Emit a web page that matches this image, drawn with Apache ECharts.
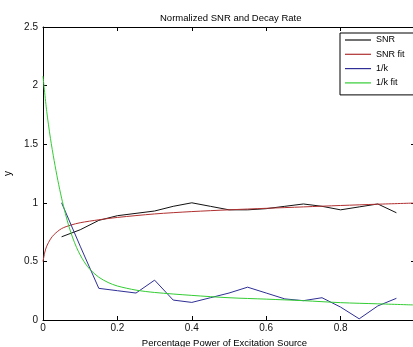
<!DOCTYPE html>
<html>
<head>
<meta charset="utf-8">
<script src="https://cdn.jsdelivr.net/npm/echarts@6/dist/echarts.min.js"></script>
<style>
html,body{margin:0;padding:0;background:#fff;}
#chart{width:413px;height:347px;}
</style>
</head>
<body>
<div id="chart"></div>
<script>
// ---- data ----
var xPts = [0.05,0.10,0.15,0.20,0.25,0.30,0.35,0.40,0.45,0.50,0.55,0.60,0.65,0.70,0.75,0.80,0.85,0.90,0.95];
var snr  = [0.71,0.77,0.85,0.89,0.91,0.93,0.97,1.00,0.97,0.94,0.94,0.95,0.97,0.99,0.97,0.94,0.965,0.99,0.915];
var invK = [1.00,0.63,0.27,0.25,0.23,0.34,0.17,0.15,0.19,0.23,0.28,0.23,0.18,0.165,0.19,0.11,0.01,0.12,0.185];

var snrFitX = [0.0,0.005,0.01,0.02,0.03,0.05,0.075,0.10,0.15,0.20,0.30,0.40,0.50,0.60,0.70,0.80,0.90,1.00];
var snrFitY = [0.50,0.58,0.63,0.69,0.73,0.78,0.81,0.83,0.855,0.875,0.905,0.925,0.94,0.953,0.965,0.977,0.988,0.998];

var invKFitX = [0.0,0.01,0.02,0.03,0.04,0.05,0.06,0.07,0.08,0.09,0.10,0.11,0.12,0.13,0.15,0.175,0.20,0.25,0.30,0.40,0.50,0.60,0.70,0.80,0.90,1.00];
var invKFitY = [2.08,1.78,1.55,1.36,1.19,1.04,0.91,0.795,0.70,0.62,0.555,0.50,0.455,0.42,0.365,0.32,0.29,0.255,0.235,0.21,0.19,0.178,0.165,0.148,0.138,0.128];

var seriesNames = ['SNR','SNR fit','1/k','1/k fit'];
var titleText = 'Normalized SNR and Decay Rate';
var xName = 'Percentage Power of Excitation Source';
var yName = 'y';

function pairs(xs, ys){ return xs.map(function(x,i){ return [x, ys[i]]; }); }

var font = 'Liberation Sans, Arial, Helvetica, sans-serif';
var chart = echarts.init(document.getElementById('chart'), null, {renderer:'canvas'});

var axisCommon = {
  axisLine:{show:true, onZero:false, lineStyle:{color:'#000', width:1}},
  axisTick:{show:true, inside:true, length:4, lineStyle:{color:'#000'}},
  splitLine:{show:false}
};
var lineIcon = 'path://M0,0 L26,0 L26,1.2 L0,1.2 Z';

chart.setOption({
  animation:false,
  backgroundColor:'#fff',
  title:{
    text:titleText, left:155, top:8,
    textStyle:{fontFamily:font, fontSize:9.5, fontWeight:'normal', color:'#000'}
  },
  legend:{
    orient:'vertical', left:340, top:33,
    data:seriesNames.map(function(n){ return {name:n, icon:lineIcon}; }),
    itemWidth:26, itemHeight:14, itemGap:0.3,
    padding:[0,60,5,5],
    borderColor:'#000', borderWidth:1, backgroundColor:'#fff',
    textStyle:{fontFamily:font, fontSize:9, color:'#000', lineHeight:14}
  },
  grid:{left:43, top:27, width:372, height:293, containLabel:false, outerBoundsMode:'none', show:false},
  xAxis:[
    Object.assign({}, axisCommon, {
      type:'value', min:0, max:1, interval:0.2, position:'bottom',
      axisLabel:{margin:3, fontFamily:font, fontSize:10, color:'#111'},
      name:xName, nameLocation:'middle', nameGap:17,
      nameTextStyle:{fontFamily:font, fontSize:9.5, color:'#000', padding:[0,9,0,0]}
    }),
    Object.assign({}, axisCommon, {
      type:'value', min:0, max:1, interval:0.2, position:'top',
      axisLabel:{show:false}
    })
  ],
  yAxis:[
    Object.assign({}, axisCommon, {
      type:'value', min:0, max:2.5, interval:0.5, position:'left',
      axisLabel:{margin:5, fontFamily:font, fontSize:10, color:'#111'},
      name:yName, nameLocation:'middle', nameGap:27,
      nameTextStyle:{fontFamily:font, fontSize:10, color:'#000'}
    }),
    Object.assign({}, axisCommon, {
      type:'value', min:0, max:2.5, interval:0.5, position:'right',
      axisLabel:{show:false}
    })
  ],
  series:[
    {name:seriesNames[0], type:'line', data:pairs(xPts, snr), symbol:'none',
     lineStyle:{color:'#111', width:1}, itemStyle:{color:'#111'}},
    {name:seriesNames[1], type:'line', data:pairs(snrFitX, snrFitY), symbol:'none', smooth:0.3,
     lineStyle:{color:'#b03030', width:1}, itemStyle:{color:'#b03030'}},
    {name:seriesNames[2], type:'line', data:pairs(xPts, invK), symbol:'none',
     lineStyle:{color:'#2e2e96', width:1}, itemStyle:{color:'#2e2e96'}},
    {name:seriesNames[3], type:'line', data:pairs(invKFitX, invKFitY), symbol:'none', smooth:0.3,
     lineStyle:{color:'#33cc33', width:1}, itemStyle:{color:'#33cc33'}}
  ]
});
</script>
</body>
</html>
